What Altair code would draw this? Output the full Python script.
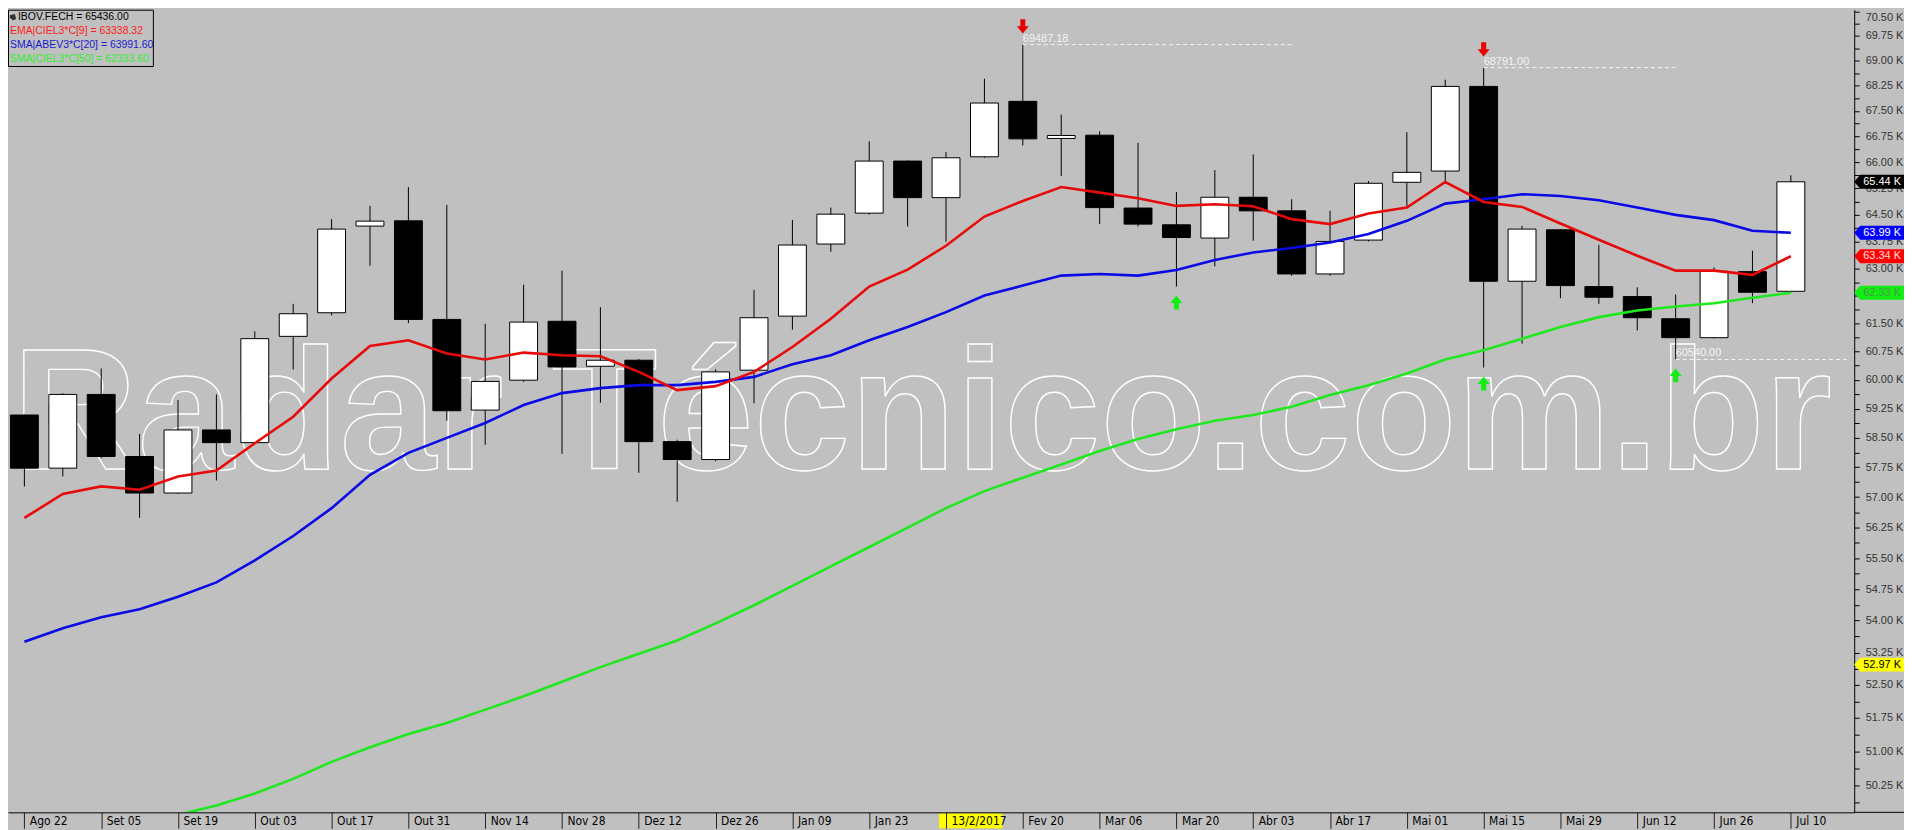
import json
import altair as alt
import pandas as pd

# ---------------- data (weekly IBOV candles) ----------------
x_labels = ["Ago 22", "Set 05", "Set 19", "Out 03", "Out 17", "Out 31", "Nov 14",
            "Nov 28", "Dez 12", "Dez 26", "Jan 09", "Jan 23", "13/2/2017", "Fev 20",
            "Mar 06", "Mar 20", "Abr 03", "Abr 17", "Mai 01", "Mai 15", "Mai 29",
            "Jun 12", "Jun 26", "Jul 10"]
cursor_idx = 24

opens = [59085, 57727, 59620, 58022, 57102, 58700, 58375, 61155, 61790, 64179,
         64327, 61610, 59213, 59993, 61560, 60360, 60519, 58401, 57945, 60256,
         61699, 63677, 64544, 66032, 64984, 66156, 67781, 66689, 66785, 64688,
         64216, 63844, 64995, 64609, 62849, 63788, 65422, 65745, 68226, 62648,
         64075, 62502, 62230, 61629, 61120, 62912, 62373]
highs = [59100, 59650, 60300, 58598, 59472, 59620, 61289, 62033, 64375, 64750,
         65288, 64778, 61494, 62557, 62940, 61941, 60550, 58450, 60280, 62413,
         64355, 64701, 66610, 66050, 66291, 68456, 69487.18, 67390, 66901, 66561,
         65146, 65773, 66225, 64939, 64609, 65459, 66872, 68426, 68791.00, 64188,
         64095, 63657, 62483, 62285, 63031, 63492, 65622]
lows = [57267, 57517, 57980, 56483, 57080, 57416, 58350, 60273, 61720, 63076,
        61511, 58939, 58317, 59950, 58089, 59403, 57610, 56886, 57900, 59387,
        61334, 63464, 64500, 64168, 63741, 66127, 66486, 65602, 64235, 64168,
        62502, 63058, 63768, 62800, 62800, 63750, 64701, 65459, 60327, 60961,
        62185, 62033, 61315, 60540.00, 61100, 62049, 62347]
closes = [57727, 59620, 58022, 57102, 58700, 58375, 61094, 61764, 64095, 64319,
          61610, 59196, 59960, 61538, 60342, 60519, 58401, 57945, 60211, 61656,
          63650, 64515, 66032, 64984, 66127, 67731, 66677, 66776, 64701, 64235,
          63860, 64995, 64609, 62849, 63750, 65393, 65707, 68226, 62648, 64095,
          62529, 62211, 61656, 61120, 62921, 62347, 65436]

ema9 = [56483, 57078, 57267, 57185, 57517, 57667, 58361, 59041, 60038, 60897,
        61049, 60696, 60538, 60722, 60651, 60624, 60211, 59732, 59837, 60211,
        60871, 61629, 62502, 62968, 63630, 64448, 64890, 65288, 65126, 64967,
        64749, 64797, 64741, 64375, 64235, 64532, 64701, 65430, 64862, 64721,
        64252, 63796, 63353, 62940, 62940, 62823, 63338.32]
sma20 = [53504, 53822, 54080, 54270, 54566, 54912, 55441, 56037, 56725, 57560,
         58115, 58496, 58880, 59343, 59655, 59785, 59863, 59863, 59949, 60080,
         60414, 60651, 61049, 61404, 61807, 62259, 62530, 62803, 62849, 62803,
         62959, 63234, 63444, 63566, 63721, 63955, 64328, 64814, 64939, 65081,
         65032, 64910, 64701, 64495, 64347, 64048, 63991.60]
sma50 = [None, None, None, None, 49600, 49800, 50066, 50386, 50763, 51087,
         51386, 51634, 51936, 52240, 52573, 52912, 53221, 53533, 53935, 54365,
         54828, 55296, 55768, 56244, 56725, 57150, 57485, 57821, 58160, 58471,
         58721, 58939, 59085, 59299, 59603, 59863, 60169, 60538, 60783, 61094,
         61404, 61672, 61853, 61960, 62049, 62196, 62333.60]

ann_idx = [26, 38, 43]
ann_val = [69487.18, 68791.00, 60540.00]
ann_end = [33.0, 43.0, 47.5]
down_idx = [26, 38]
up_idx = [30, 38, 43]

tag_vals = [65436, 63991.60, 63338.32, 62333.60, 52970]
tag_text = ["65.44 K", "63.99 K", "63.34 K", "62.33 K", "52.97 K"]
tag_kind = ["close", "sma20", "ema9", "sma50", "level"]

legend_lines = ["IBOV.FECH = 65436.00", "EMA|CIEL3*C[9] = 63338.32",
                "SMA|ABEV3*C[20] = 63991.60", "SMA|CIEL3*C[50] = 62333.60"]
watermark = "Radar Técnico.com.br"

y_major = [50250 + 750 * k for k in range(28)]
y_minor = [49875] + [v + 375 for v in y_major[:-1]]

# ---------------- tables ----------------
n = len(closes)
df = pd.DataFrame({
    "i": list(range(n)), "open": opens, "high": highs, "low": lows, "close": closes,
    "ema": ema9, "sma20": sma20, "sma50": sma50,
})
df["dir"] = ["up" if c >= o else "down" for o, c in zip(opens, closes)]

ann = pd.DataFrame({"i": ann_idx, "val": ann_val, "end": ann_end})
downs = pd.DataFrame({"i": down_idx, "v": [highs[k] for k in down_idx]})
ups = pd.DataFrame({"i": up_idx, "v": [lows[k] for k in up_idx]})
tags = pd.DataFrame({"v": tag_vals, "t": tag_text, "k": tag_kind})
one = pd.DataFrame({"t": [watermark]})

# ---------------- styling ----------------
W, H = 1854, 806
BG = "#c0c0c0"
FONT = "Liberation Sans"
NARROW = "Liberation Sans Narrow, Arial Narrow, DejaVu Sans Condensed, Liberation Sans"

x_scale = alt.Scale(domain=[-0.297, 47.52], nice=False, zero=False)
y_scale = alt.Scale(type="log", domain=[49653, 70555], nice=False)

x_axis = alt.Axis(
    values=list(range(0, 47, 2)),
    labelExpr=f"{json.dumps(x_labels)}[round(datum.value/2)]",
    orient="bottom", title=None, grid=False,
    domainColor="black", domainWidth=1,
    tickColor="#222222", tickSize=16, tickWidth=1,
    labelAlign="left", labelBaseline="middle", labelPadding=-8, labelOffset=5,
    labelFont=NARROW, labelFontSize=12, labelColor="black",
    labelFlush=False, labelOverlap=False, labelBound=False, zindex=1,
)
y_axis = alt.Axis(
    values=y_major + y_minor,
    labelExpr="datum.value % 750 == 0 ? format(datum.value/1000, '.2f') + ' K' : ''",
    orient="right", title=None, grid=False,
    domainColor="black", domainWidth=1,
    tickColor="black", tickSize=5, tickWidth=1,
    labelPadding=6, labelFont=FONT, labelFontSize=11, labelColor="#333333",
    labelBaseline={"condition": {"test": "datum.value >= 70500", "value": "top"},
                   "value": "middle"},
    labelFlush=False, labelOverlap=False, labelBound=False, zindex=0,
)

X = alt.X("i:Q", scale=x_scale, axis=x_axis)


def Y(field):
    return alt.Y(f"{field}:Q", scale=y_scale, axis=y_axis)


layers = []

# watermark
layers.append(
    alt.Chart(one).mark_text(
        font=FONT, fontWeight="bold", fontSize=174, fillOpacity=0,
        stroke="white", strokeWidth=1.4, align="center", baseline="alphabetic",
    ).encode(x=alt.value(918), y=alt.value(461), text="t:N")
)

base = alt.Chart(df)
# wicks
layers.append(base.mark_rule(color="black", strokeWidth=1).encode(
    x=X, y=Y("low"), y2="high:Q"))
# bodies
layers.append(base.mark_bar(size=28, stroke="black", strokeWidth=1).encode(
    x=X, y=Y("open"), y2="close:Q",
    fill=alt.Fill("dir:N", scale=alt.Scale(domain=["down", "up"], range=["black", "white"]),
                  legend=None)))
# moving averages
layers.append(base.mark_line(color="#0a0ae6", strokeWidth=2.6, clip=True).encode(x=X, y=Y("sma20")))
layers.append(base.mark_line(color="#e60a0a", strokeWidth=2.6, clip=True).encode(x=X, y=Y("ema")))
layers.append(base.mark_line(color="#1fe81f", strokeWidth=2.6, clip=True).encode(x=X, y=Y("sma50")))

# annotations: dashed level lines + values
layers.append(alt.Chart(ann).mark_rule(color="#f4f4f4", strokeWidth=1, strokeDash=[4, 3]).encode(
    x=X, x2="end:Q", y=Y("val")))
layers.append(alt.Chart(ann).mark_text(
    align="left", baseline="bottom", dy=-1, fontSize=11, font=FONT, color="#f4f4f4").encode(
    x=X, y=Y("val"), text=alt.Text("val:Q", format=".2f")))

DOWN = "M -0.5 -5.1 L 0.5 -5.1 L 0.5 -3.7 L 1.2 -3.7 L 0 -2.2 L -1.2 -3.7 L -0.5 -3.7 Z"
UP = "M 0 1.8 L 1.2 3.3 L 0.5 3.3 L 0.5 4.6 L -0.5 4.6 L -0.5 3.3 L -1.2 3.3 Z"
layers.append(alt.Chart(downs).mark_point(
    shape=DOWN, filled=True, size=100, color="#e80000", opacity=1, strokeWidth=0).encode(
    x=X, y=Y("v")))
layers.append(alt.Chart(ups).mark_point(
    shape=UP, filled=True, size=100, color="#11ee11", opacity=1, strokeWidth=0).encode(
    x=X, y=Y("v")))

# right-axis value tags
TAG = "M -2 0 L -1.52 -0.56 L 2 -0.56 L 2 0.56 L -1.52 0.56 Z"
layers.append(alt.Chart(tags).mark_point(
    shape=TAG, filled=True, size=625, opacity=1, strokeWidth=0).encode(
    x=alt.value(W + 25), y=Y("v"),
    color=alt.Color("k:N", scale=alt.Scale(
        domain=tag_kind, range=["#000000", "#0000ff", "#ff0000", "#11ee11", "#ffff00"]),
        legend=None)))
layers.append(alt.Chart(tags).mark_text(
    align="center", baseline="middle", fontSize=11, font=FONT).encode(
    x=alt.value(W + 28), y=Y("v"), text="t:N",
    fill=alt.Fill("k:N", scale=alt.Scale(
        domain=tag_kind, range=["#ffffff", "#ffffff", "#ffe0e0", "#4a9a4a", "#000000"]),
        legend=None)))

# bottom line continuing under the price axis
layers.append(alt.Chart(one).mark_rule(color="black", strokeWidth=1).encode(
    x=alt.value(W), x2=alt.value(W + 50), y=alt.value(H)))

# cursor date highlight
layers.append(alt.Chart(one).mark_rect(color="#ffff00").encode(
    x=alt.X(datum=cursor_idx - 0.18, scale=x_scale, axis=x_axis),
    x2=alt.X2(datum=cursor_idx + 1.47),
    y=alt.value(H + 1), y2=alt.value(H + 16)))

# legend box
layers.append(alt.Chart(one).mark_rect(fillOpacity=0, stroke="black", strokeWidth=1).encode(
    x=alt.value(0.5), x2=alt.value(146), y=alt.value(0.5), y2=alt.value(57)))
layers.append(alt.Chart(one).mark_point(
    shape="M -1 -0.6 L 0.6 -1 L 1 0.6 L 0 1 L -1 0.2 Z", filled=True, size=40,
    color="#333333", opacity=1, strokeWidth=0).encode(x=alt.value(5), y=alt.value(7.5)))
legend_colors = ["#000000", "#ff1a1a", "#1a1ad0", "#33ee33"]
legend_x = [10, 2, 2, 2]
for k, (line, col) in enumerate(zip(legend_lines, legend_colors)):
    layers.append(alt.Chart(pd.DataFrame({"t": [line]})).mark_text(
        align="left", baseline="middle", fontSize=10.5, font=FONT, color=col).encode(
        x=alt.value(legend_x[k]), y=alt.value(7.5 + 14 * k), text="t:N"))

chart = alt.layer(*layers).resolve_scale(
    color="independent", fill="independent"
).properties(
    width=W, height=H, background=BG,
    padding={"left": 0, "top": 0, "right": 50, "bottom": 16},
    autosize=alt.AutoSizeParams(type="none"),
).configure_view(strokeWidth=0)

chart.save("out.html", embed_options={"renderer": "svg", "actions": False})
